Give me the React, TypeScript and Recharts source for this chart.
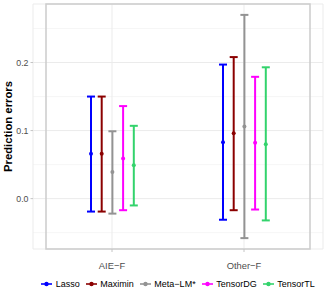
import { ComposedChart, Bar, ErrorBar, XAxis, YAxis, CartesianGrid, ReferenceArea } from 'recharts'

const groups = ['AIE−F', 'Other−F']
const methods = ['Lasso', 'Maximin', 'Meta−LM*', 'TensorDG', 'TensorTL']
const colors = ['#0000ff', '#8b0000', '#939393', '#ff00ff', '#33d36c']

// per method: [AIE-F, Other-F]
const means = [
  [0.066, 0.083],
  [0.066, 0.096],
  [0.039, 0.106],
  [0.059, 0.082],
  [0.049, 0.080],
]
const lows = [
  [-0.019, -0.031],
  [-0.019, -0.017],
  [-0.022, -0.058],
  [-0.017, -0.016],
  [-0.010, -0.032],
]
const highs = [
  [0.150, 0.197],
  [0.150, 0.208],
  [0.099, 0.270],
  [0.136, 0.179],
  [0.107, 0.193],
]

const yTicks = [0, 0.1, 0.2]
const minorTicks = [-0.05, 0.05, 0.15, 0.25]
const yDomain: [number, number] = [-0.074, 0.286]

const rows = groups.map((g, i) => {
  const row: Record<string, any> = { group: g }
  methods.forEach((_, k) => {
    row[`m${k}`] = means[k][i]
    row[`e${k}`] = [means[k][i] - lows[k][i], highs[k][i] - means[k][i]]
  })
  return row
})

const font = '"Liberation Sans", Arial, sans-serif'

const Dot = (props: any) => {
  const { x, y, width, fill } = props
  return <circle cx={x + width / 2} cy={y} r={2} fill={fill} />
}

const YTitle = (props: any) => {
  const vb = props.viewBox
  const cy = vb.y + vb.height / 2
  return (
    <text
      x={8}
      y={cy}
      transform={`rotate(-90, 8, ${cy})`}
      textAnchor="middle"
      dominantBaseline="central"
      fontSize={11.3}
      fontWeight="bold"
      fill="#000"
      fontFamily={font}
    >
      Prediction errors
    </text>
  )
}

export default function App() {
  return (
    <div style={{ position: 'absolute', left: 0, top: 0, width: 327, height: 300, background: '#fff', fontFamily: font }}>
      <ComposedChart
        width={327}
        height={300}
        data={rows}
        margin={{ top: 4, right: 4, left: 0, bottom: 31 }}
        barGap={6.7}
        barSize={4}
      >
        <CartesianGrid horizontalValues={minorTicks} vertical={false} stroke="#f4f4f4" strokeWidth={0.8} />
        <CartesianGrid stroke="#ebebeb" strokeWidth={1} />
        <XAxis
          dataKey="group"
          padding={{ left: 13, right: 13 }}
          height={20}
          axisLine={false}
          tickSize={3}
          tickMargin={10}
          tickLine={{ stroke: '#c4c4c4' }}
          tick={{ fontSize: 9.4, fill: '#4d4d4d', fontFamily: font }}
        />
        <YAxis
          type="number"
          domain={yDomain}
          allowDataOverflow
          ticks={yTicks}
          width={33}
          axisLine={false}
          tickSize={2.5}
          tickMargin={2}
          tickLine={{ stroke: '#c4c4c4' }}
          tickFormatter={(v: number) => v.toFixed(1)}
          tick={{ fontSize: 8.8, fill: '#4d4d4d', fontFamily: font }}
          label={{ content: YTitle }}
        />
        <ReferenceArea y1={yDomain[0]} y2={yDomain[1]} fill="none" stroke="#cccccc" strokeWidth={1.5} />
        {methods.map((name, k) => (
          <Bar
            key={name}
            name={name}
            dataKey={`m${k}`}
            fill={colors[k]}
            shape={<Dot />}
            isAnimationActive={false}
          >
            <ErrorBar dataKey={`e${k}`} width={4} strokeWidth={2} stroke={colors[k]} direction="y" />
          </Bar>
        ))}
      </ComposedChart>
      <div
        style={{
          position: 'absolute',
          left: 33,
          top: 277,
          width: 290,
          display: 'flex',
          justifyContent: 'center',
          alignItems: 'center',
          fontSize: 9,
          color: '#000',
          lineHeight: '14px',
        }}
      >
        {methods.map((name, k) => (
          <div key={name} style={{ display: 'flex', alignItems: 'center', marginRight: k < methods.length - 1 ? 6 : 0 }}>
            <svg width={11} height={8} style={{ marginRight: 3.5 }}>
              <line x1={0} y1={4} x2={11} y2={4} stroke={colors[k]} strokeWidth={1.6} />
              <circle cx={5.5} cy={4} r={2.2} fill={colors[k]} />
            </svg>
            <span>{name}</span>
          </div>
        ))}
      </div>
    </div>
  )
}
